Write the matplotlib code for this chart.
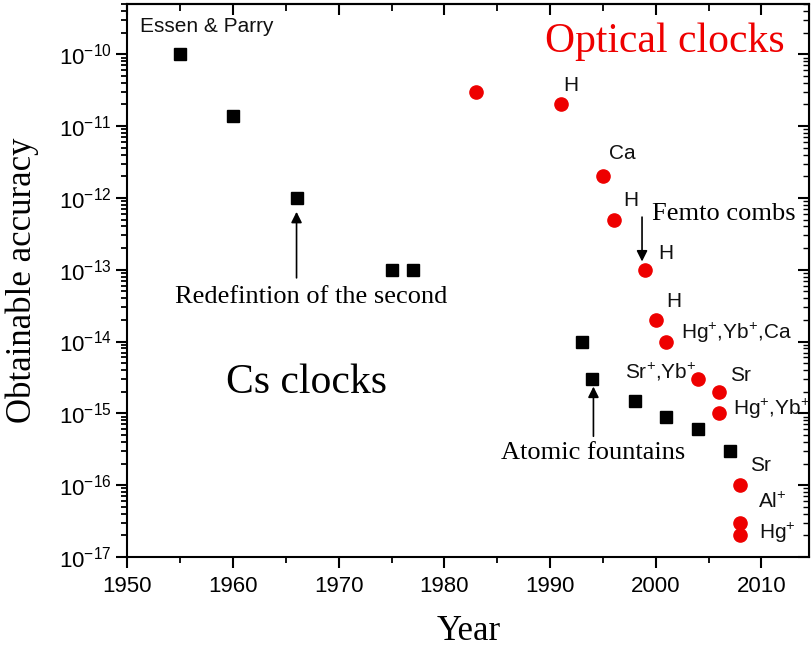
import matplotlib
matplotlib.use("Agg")
import matplotlib.pyplot as plt
from matplotlib.ticker import MultipleLocator, LogLocator, NullFormatter, FixedLocator

plt.rcParams["font.family"] = ["Liberation Sans", "DejaVu Sans"]
plt.rcParams["mathtext.fontset"] = "custom"
plt.rcParams["mathtext.rm"] = "Liberation Sans"
plt.rcParams["mathtext.it"] = "Liberation Sans:italic"
plt.rcParams["mathtext.bf"] = "Liberation Sans:bold"
plt.rcParams["axes.unicode_minus"] = False

# Caesium clocks
cs_years = [1955, 1960, 1966, 1975, 1977, 1993, 1994, 1998, 2001, 2004, 2007]
cs_acc = [1e-10, 1.4e-11, 1e-12, 1e-13, 1e-13, 1e-14, 3e-15, 1.5e-15, 9e-16, 6e-16, 3e-16]

# Optical clocks
opt_years = [1983, 1991, 1995, 1996, 1999, 2000, 2001, 2004, 2006, 2006, 2008, 2008, 2008]
opt_acc = [3e-11, 2e-11, 2e-12, 5e-13, 1e-13, 2e-14, 1e-14, 3e-15, 2e-15, 1e-15, 1e-16, 3e-17, 2e-17]

# Species labels next to the points: (text, year, accuracy)
species_labels = [
    ("Essen & Parry", 1951.2, 2.4e-10),
    ("H", 1991.2, 3.7e-11),
    ("Ca", 1995.6, 4.1e-12),
    ("H", 1996.9, 9.1e-13),
    ("H", 2000.2, 1.66e-13),
    ("H", 2001.0, 3.6e-14),
    ("Hg$^{+}$,Yb$^{+}$,Ca", 2002.4, 1.33e-14),
    ("Sr$^{+}$,Yb$^{+}$", 1997.1, 3.8e-15),
    ("Sr", 2007.05, 3.4e-15),
    ("Hg$^{+}$,Yb$^{+}$", 2007.3, 1.17e-15),
    ("Sr", 2008.9, 1.9e-16),
    ("Al$^{+}$", 2009.7, 5.9e-17),
    ("Hg$^{+}$", 2009.8, 2.14e-17),
]

decades = [1e-17, 1e-16, 1e-15, 1e-14, 1e-13, 1e-12, 1e-11, 1e-10]
decade_labels = ["$\\mathdefault{10^{-%d}}$" % e for e in range(17, 9, -1)]

serif = "Liberation Serif"

fig = plt.figure(figsize=(8.11, 6.48), dpi=100)
ax = fig.add_axes([0.1572, 0.1404, 0.8403, 0.8534])

ax.plot(cs_years, cs_acc, "s", color="black", markersize=8.8, linestyle="none", zorder=3)
ax.plot(opt_years, opt_acc, "o", color="#ee0000", markersize=9.5, linestyle="none", zorder=3)

ax.set_yscale("log")
ax.set_xlim(1950, 2014.5)
ax.set_ylim(1e-17, 5e-10)

ax.xaxis.set_major_locator(MultipleLocator(10))
ax.xaxis.set_minor_locator(MultipleLocator(5))
ax.set_yticks(decades)
ax.set_yticklabels(decade_labels)
ax.yaxis.set_minor_locator(LogLocator(base=10, subs=range(2, 10), numticks=20))
ax.yaxis.set_minor_formatter(NullFormatter())

for side in ["left", "bottom", "top", "right"]:
    ax.spines[side].set_linewidth(1.5)

ax.tick_params(axis="both", which="major", direction="out", length=8, width=1.5,
               labelsize=16)
ax.tick_params(axis="x", which="major", pad=6)
ax.tick_params(axis="both", which="minor", direction="out", length=4.5, width=1.3)

# inward ticks along the top and right edges
sec_x = ax.secondary_xaxis("top")
sec_x.xaxis.set_major_locator(MultipleLocator(10))
sec_x.xaxis.set_minor_locator(MultipleLocator(5))
sec_x.tick_params(which="major", direction="in", length=8, width=1.5, labeltop=False)
sec_x.tick_params(which="minor", direction="in", length=5, width=1.3)
sec_x.spines["top"].set_linewidth(1.5)
sec_y = ax.secondary_yaxis("right")
sec_y.set_yscale("log")
sec_y.yaxis.set_major_locator(FixedLocator(decades))
sec_y.yaxis.set_minor_locator(LogLocator(base=10, subs=range(2, 10), numticks=20))
sec_y.yaxis.set_minor_formatter(NullFormatter())
sec_y.tick_params(which="major", direction="in", length=8, width=1.5, labelright=False)
sec_y.tick_params(which="minor", direction="in", length=4, width=1.0)

ax.set_xlabel("Year", fontsize=25, family=serif)
ax.xaxis.set_label_coords(0.5, -0.105)
ax.set_ylabel("Obtainable accuracy", fontsize=25, family=serif)
ax.yaxis.set_label_coords(-0.13, 0.5)

for text, x, y in species_labels:
    ax.text(x, y, text, fontsize=15, ha="left", va="center", color="#111111")

ax.text(1989.5, 1.47e-10, "Optical clocks", fontsize=30, family=serif,
        color="#ee0000", ha="left", va="center")
ax.text(1959.3, 2.65e-15, "Cs clocks", fontsize=30, family=serif,
        color="black", ha="left", va="center")
ax.text(1967.4, 4.2e-14, "Redefintion of the second", fontsize=19, family=serif,
        ha="center", va="center")
ax.text(1994.05, 2.8e-16, "Atomic fountains", fontsize=19, family=serif,
        ha="center", va="center")
ax.text(1999.6, 6.0e-13, "Femto combs", fontsize=19, family=serif,
        ha="left", va="center")

arrow = dict(arrowstyle="-|>", lw=1.2, color="black", mutation_scale=16,
             shrinkA=0, shrinkB=0)
ax.annotate("", xy=(1966.0, 6.4e-13), xytext=(1966.0, 7.7e-14), arrowprops=arrow)
ax.annotate("", xy=(1994.1, 2.36e-15), xytext=(1994.1, 4.8e-16), arrowprops=arrow)
ax.annotate("", xy=(1998.7, 1.3e-13), xytext=(1998.7, 5.4e-13), arrowprops=arrow)

fig.savefig("out.png", dpi=100)
